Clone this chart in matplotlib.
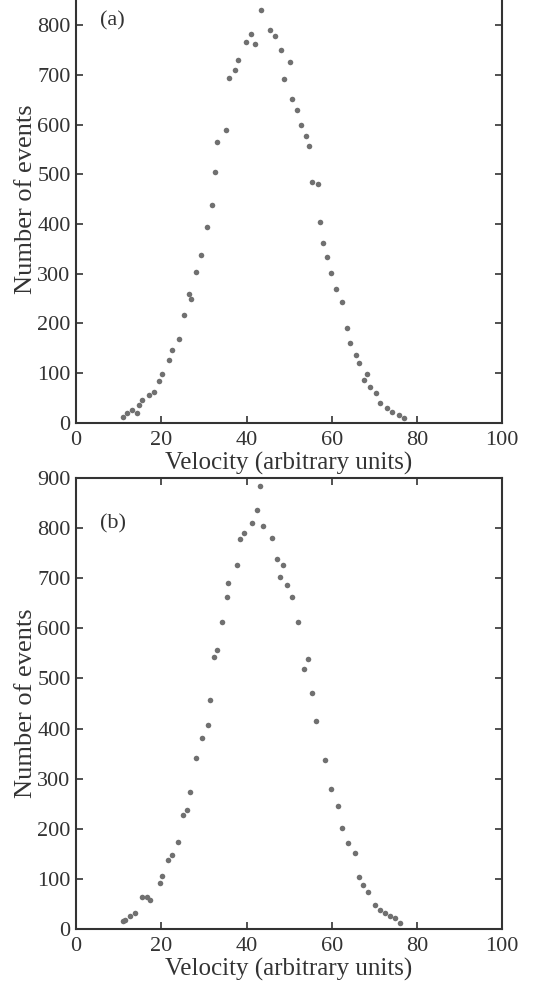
import matplotlib
matplotlib.use('Agg')
import matplotlib.pyplot as plt

plt.rcParams['font.family'] = ['Liberation Serif', 'DejaVu Serif']

# Panel (a): velocity / number of events
vel_a = [10.9, 12.0, 13.2, 14.2, 14.8, 15.5, 17.1, 18.3, 19.5, 20.2, 21.8, 22.6,
         24.1, 25.3, 26.5, 26.9, 28.1, 29.2, 30.8, 31.8, 32.6, 33.1, 35.1, 35.9,
         37.4, 38.1, 39.8, 41.0, 42.1, 43.3, 45.4, 46.7, 48.0, 48.8, 50.2, 50.7,
         51.9, 52.7, 53.9, 54.6, 55.4, 56.7, 57.2, 58.0, 58.9, 59.9, 61.0, 62.4,
         63.6, 64.4, 65.6, 66.4, 67.5, 68.3, 69.1, 70.3, 71.4, 73.0, 74.2, 75.7, 76.9]
events_a = [12, 19, 26, 19, 36, 46, 56, 62, 83, 99, 126, 146,
            168, 217, 260, 250, 304, 337, 393, 438, 504, 565, 589, 694,
            710, 730, 767, 783, 763, 830, 791, 778, 750, 691, 726, 651,
            629, 599, 576, 557, 485, 480, 404, 361, 334, 301, 270, 243,
            190, 160, 136, 120, 86, 99, 72, 59, 39, 29, 22, 15, 9]

# Panel (b)
vel_b = [11.1, 11.5, 12.7, 13.8, 15.4, 16.6, 17.3, 19.7, 20.1, 21.6, 22.4, 24.0,
         25.0, 26.0, 26.7, 28.1, 29.5, 31.0, 31.4, 32.4, 33.0, 34.2, 35.3, 35.7,
         37.7, 38.5, 39.4, 41.2, 42.4, 43.1, 43.9, 45.9, 47.1, 47.8, 48.5, 49.5,
         50.7, 52.1, 53.5, 54.5, 55.3, 56.4, 58.4, 59.8, 61.5, 62.3, 63.8, 65.4,
         66.4, 67.4, 68.5, 70.1, 71.3, 72.5, 73.6, 74.8, 76.0]
events_b = [15, 18, 26, 31, 64, 64, 58, 91, 106, 138, 148, 174,
            227, 237, 274, 341, 381, 407, 457, 543, 557, 612, 663, 691,
            726, 778, 791, 811, 837, 883, 804, 781, 738, 702, 726, 686,
            663, 613, 519, 538, 470, 414, 337, 279, 245, 201, 171, 151,
            104, 88, 74, 48, 38, 31, 26, 21, 11]

x_ticks = [0, 20, 40, 60, 80, 100]
y_ticks_a = [0, 100, 200, 300, 400, 500, 600, 700, 800]
y_ticks_b = [0, 100, 200, 300, 400, 500, 600, 700, 800, 900]

INK = '#333333'
DOT = '#707070'

fig = plt.figure(figsize=(5.56, 9.82), dpi=100)
# top panel runs past the top edge, like the cropped scan
ax_a = fig.add_axes([0.137, 0.5695, 0.766, 0.4555])
ax_b = fig.add_axes([0.137, 0.054, 0.766, 0.4593])


def style_axis(ax, yticks, label):
    ax.set_xlim(0, 100)
    ax.set_ylim(0, 900)
    ax.set_xticks(x_ticks)
    ax.set_yticks(yticks)
    ax.tick_params(direction='in', top=True, right=True, length=5, width=1.2,
                   labelsize=16, colors=INK)
    ax.tick_params(axis='x', pad=6)
    ax.tick_params(axis='y', pad=4)
    for sp in ax.spines.values():
        sp.set_linewidth(1.5)
        sp.set_color(INK)
    ax.set_xlabel('Velocity (arbitrary units)', fontsize=18, color=INK, labelpad=1)
    ax.set_ylabel('Number of events', fontsize=19, color=INK, labelpad=0)
    ax.text(5.5, 808, label, fontsize=16, color=INK, va='center')


ax_a.plot(vel_a, events_a, 'o', color=DOT, markersize=4, markeredgewidth=0)
ax_b.plot(vel_b, events_b, 'o', color=DOT, markersize=4, markeredgewidth=0)

style_axis(ax_a, y_ticks_a, '(a)')
style_axis(ax_b, y_ticks_b, '(b)')

fig.savefig('out.png', dpi=100)
